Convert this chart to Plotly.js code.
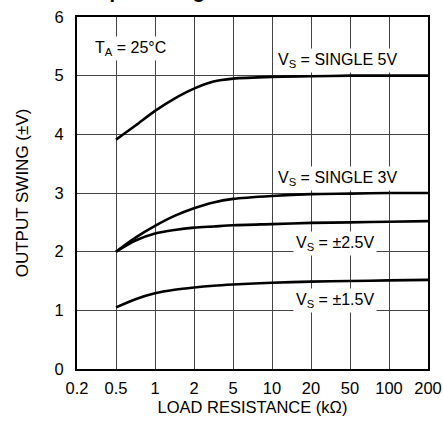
<!DOCTYPE html>
<html>
<head>
<meta charset="utf-8">
<script src="https://cdn.plot.ly/plotly-3.0.1.min.js"></script>
<style>html,body{margin:0;padding:0;background:#fff;}#chart{width:443px;height:423px;}</style>
</head>
<body>
<div id="chart"></div>
<script>
// Load resistance tick labels (kΩ), equally spaced on the chart
const tickLabels = ["0.2", "0.5", "1", "2", "5", "10", "20", "50", "100", "200"];
const tickIdx = [0, 1, 2, 3, 4, 5, 6, 7, 8, 9];
// Sample positions along the equally spaced resistance axis (tick index units)
const xPos = [1, 1.5, 2, 2.5, 3, 3.5, 4, 5, 6, 7, 8, 9];
// Output swing (±V) per supply
const single5V = [3.91, 4.15, 4.40, 4.61, 4.78, 4.90, 4.95, 4.98, 4.99, 5.00, 5.00, 5.00];
const single3V = [2.00, 2.24, 2.44, 2.61, 2.74, 2.84, 2.90, 2.95, 2.98, 2.99, 3.00, 3.00];
const pm25V   = [2.00, 2.19, 2.31, 2.37, 2.41, 2.43, 2.45, 2.47, 2.49, 2.50, 2.51, 2.52];
const pm15V   = [1.05, 1.19, 1.29, 1.35, 1.39, 1.42, 1.44, 1.47, 1.49, 1.50, 1.51, 1.52];
const yTicks = [0, 1, 2, 3, 4, 5, 6];

const FONT = "'Liberation Sans', Arial, sans-serif";
const series = [single5V, single3V, pm25V, pm15V];
const traces = series.map(s => ({
  x: xPos, y: s, type: 'scatter', mode: 'lines',
  line: {color: '#000', width: 2.6, shape: 'spline', smoothing: 0.8},
  hoverinfo: 'skip', showlegend: false, cliponaxis: false
}));

const ann = (x, y, text) => ({
  x: x, y: y, xref: 'x', yref: 'y', text: text, showarrow: false,
  font: {family: FONT, size: 16, color: '#000'}, bgcolor: '#fff', borderpad: 2
});

const layout = {
  width: 443, height: 423,
  margin: {l: 77, r: 15, t: 17, b: 54},
  paper_bgcolor: '#fff', plot_bgcolor: '#fff',
  font: {family: FONT, size: 16.5, color: '#000'},
  xaxis: {
    range: [-0.0001, 9.0001], tickvals: tickIdx, ticktext: tickLabels,
    showgrid: true, gridcolor: '#444', gridwidth: 1,
    zeroline: false, showline: true, mirror: true, linecolor: '#000', linewidth: 2,
    ticks: '', ticklabelstandoff: 3, ticklabeloverflow: 'allow',
    title: {text: 'LOAD RESISTANCE (kΩ)', font: {family: FONT, size: 16.5}, standoff: 6}
  },
  yaxis: {
    range: [0, 6], tickvals: yTicks,
    showgrid: true, gridcolor: '#444', gridwidth: 1,
    zeroline: false, showline: true, mirror: true, linecolor: '#000', linewidth: 2,
    ticks: '', ticklabelstandoff: 8,
    title: {text: 'OUTPUT SWING (±V)', font: {family: FONT, size: 17}, standoff: 22}
  },
  annotations: [
    ann(1.36, 5.47, 'T<sub>A</sub> = 25°C'),
    ann(6.67, 5.26, 'V<sub>S</sub> = SINGLE 5V'),
    ann(6.67, 3.25, 'V<sub>S</sub> = SINGLE 3V'),
    ann(6.62, 2.14, 'V<sub>S</sub> = ±2.5V'),
    ann(6.62, 1.17, 'V<sub>S</sub> = ±1.5V'),
    {x: -0.01, y: 1.038, xref: 'paper', yref: 'paper', xanchor: 'left', yanchor: 'bottom',
     text: '<b>Output Swing vs. Load Resistance</b>', showarrow: false,
     font: {family: FONT, size: 20, color: '#000'}}
  ]
};

Plotly.newPlot('chart', traces, layout, {staticPlot: true, displayModeBar: false});
</script>
</body>
</html>
